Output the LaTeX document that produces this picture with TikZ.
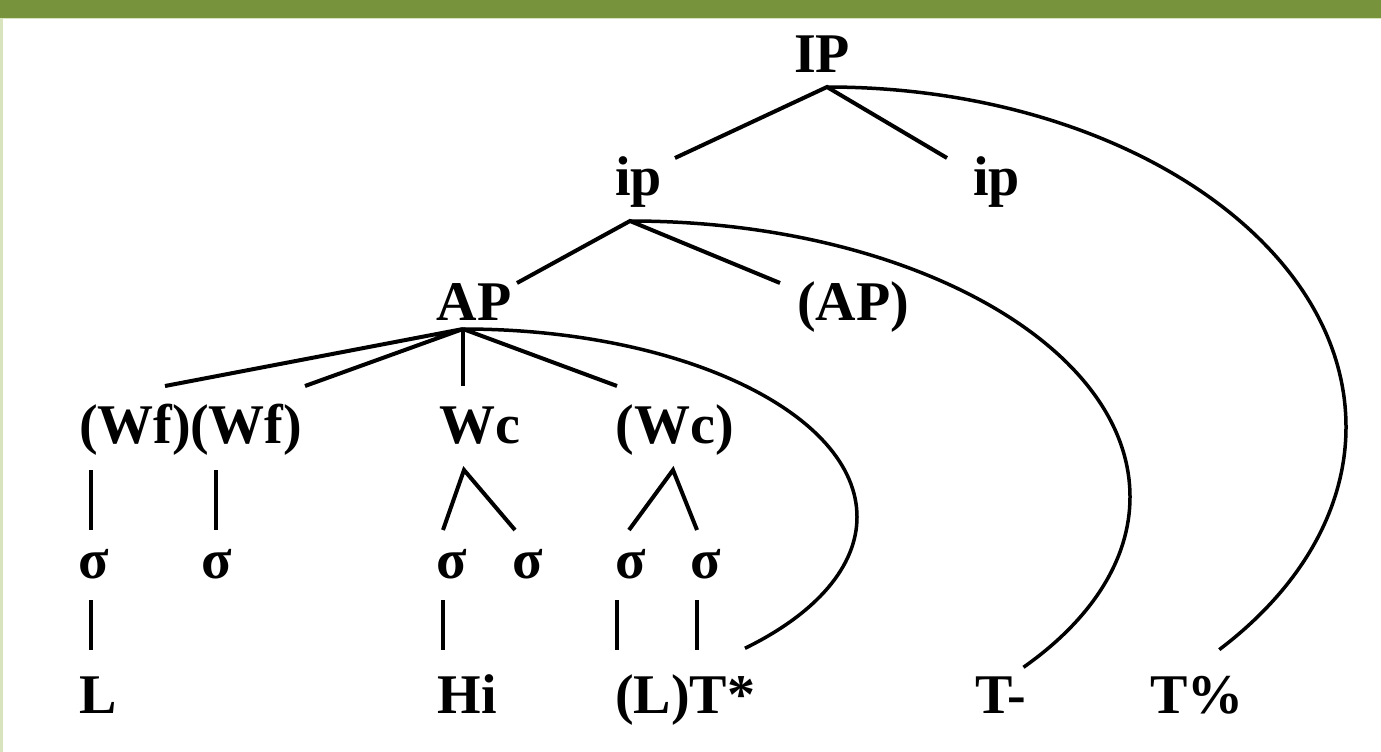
\documentclass[tikz,border=0pt]{standalone}
\usepackage{fontspec}
\setmainfont{Liberation Serif}
\definecolor{barg}{HTML}{77933C}
\definecolor{edgeg}{HTML}{D7E4BD}
\begin{document}
\begin{tikzpicture}[x=1pt,y=1pt,
  lbl/.style={anchor=base,inner sep=0pt,font=\fontsize{56}{60}\selectfont\bfseries},
  branch/.style={line width=4pt},
  arcline/.style={line width=3.5pt}]
\useasboundingbox (0,0) rectangle (1381,-752);
\fill[white] (0,0) rectangle (1381,-752);
\fill[barg] (0,0) rectangle (1381,-18);
\fill[edgeg] (0,-18) rectangle (1381,-19.5);
\fill[edgeg] (0,-18) rectangle (2.5,-752);

% labels
\node[lbl] (IP)  at (822,-72)  {IP};
\node[lbl] (ipL) at (638.5,-195) {ip};
\node[lbl] (ipR) at (996.5,-195) {ip};
\node[lbl] (AP)  at (474,-320) {AP};
\node[lbl] (APo) at (853,-320) {(AP)};
\node[lbl] (Wf1) at (135,-443) {(Wf)};
\node[lbl] (Wf2) at (246,-443) {(Wf)};
\node[lbl] (Wc)  at (480,-443) {Wc};
\node[lbl] (Wco) at (675,-443) {(Wc)};
\node[lbl] (s1) at (94,-578)  {σ};
\node[lbl] (s2) at (217,-578) {σ};
\node[lbl] (s3) at (452,-578) {σ};
\node[lbl] (s4) at (528,-578) {σ};
\node[lbl] (s5) at (631,-578) {σ};
\node[lbl] (s6) at (706,-578) {σ};
\node[lbl] (L)  at (98,-713)  {L};
\node[lbl] (Hi) at (467,-713) {Hi};
\node[lbl] (LT) at (685,-713) {(L)T*};
\node[lbl] (Tm) at (1001,-713) {T-};
\node[lbl] (Tp) at (1197,-713) {T\%};

% junction / end coordinates
\coordinate (IPj)  at (827,-87);
\coordinate (ipLt) at (675,-158);
\coordinate (ipRt) at (947,-158);
\coordinate (ipj)  at (630,-221);
\coordinate (APt)  at (517,-283);
\coordinate (APot) at (780,-283);
\coordinate (APj)  at (463,-329);
\coordinate (Wf1t) at (165,-386);
\coordinate (Wf2t) at (305,-386);
\coordinate (Wct)  at (463,-386);
\coordinate (Wcot) at (617,-386);
% row 1
\coordinate (Wf1b) at (91,-470);  \coordinate (s1t) at (91,-530);
\coordinate (Wf2b) at (216,-470); \coordinate (s2t) at (216,-530);
\coordinate (Wcb)  at (464,-470); \coordinate (s3t) at (443,-530); \coordinate (s4t) at (515,-530);
\coordinate (Wcob) at (673,-470); \coordinate (s5t) at (629,-530); \coordinate (s6t) at (697,-530);
% row 2
\coordinate (s1b) at (91,-600);  \coordinate (Lt)  at (91,-650);
\coordinate (s3b) at (443,-600); \coordinate (Hit) at (443,-650);
\coordinate (s5b) at (617,-600); \coordinate (LTt) at (617,-650);
\coordinate (s6b) at (697,-600); \coordinate (LTt2) at (697,-650);

% tree branches
\draw[branch] (ipLt) -- (IPj) -- (ipRt);
\draw[branch] (APt) -- (ipj) -- (APot);
\draw[branch] (Wf1t) -- (APj) -- (Wf2t);
\draw[branch] (APj) -- (Wct);
\draw[branch] (APj) -- (Wcot);
\draw[branch] (Wf1b) -- (s1t);
\draw[branch] (Wf2b) -- (s2t);
\draw[branch] (s3t) -- (Wcb) -- (s4t);
\draw[branch] (s5t) -- (Wcob) -- (s6t);
\draw[branch] (s1b) -- (Lt);
\draw[branch] (s3b) -- (Hit);
\draw[branch] (s5b) -- (LTt);
\draw[branch] (s6b) -- (LTt2);

% association arcs
\draw[arcline] (APj) arc[start angle=90, end angle=-44.3, x radius=394, y radius=188];
\draw[arcline] (ipj) arc[start angle=90, end angle=-38.1, x radius=500, y radius=276];
\draw[arcline] (IPj) arc[start angle=90, end angle=-40.9, x radius=519, y radius=340];
\end{tikzpicture}
\end{document}
